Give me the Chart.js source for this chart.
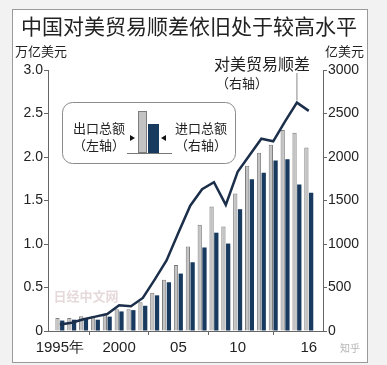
<!DOCTYPE html>
<html>
<head>
<meta charset="utf-8">
<script src="https://cdn.jsdelivr.net/npm/chart.js@4.4.1/dist/chart.umd.min.js"></script>
<style>
  html, body { margin: 0; padding: 0; background: #f2f2f2; }
  #wrap { position: relative; width: 387px; height: 365px; }
</style>
</head>
<body>
<div id="wrap"><canvas id="chart" width="387" height="365"></canvas></div>
<script>
// data
const years = [1995, 1996, 1997, 1998, 1999, 2000, 2001, 2002, 2003, 2004, 2005,
  2006, 2007, 2008, 2009, 2010, 2011, 2012, 2013, 2014, 2015, 2016];
const exportsTotal = [0.15, 0.15, 0.17, 0.17, 0.19, 0.25, 0.25, 0.33, 0.44, 0.59, 0.76,
  0.97, 1.22, 1.43, 1.20, 1.58, 1.90, 2.05, 2.14, 2.31, 2.28, 2.11];   // 万亿美元, left
const importsTotal = [120, 130, 140, 130, 165, 225, 240, 290, 410, 560, 660,
  790, 960, 1130, 1005, 1400, 1745, 1820, 1960, 1975, 1685, 1590];     // 亿美元, right
const surplus = [75, 95, 135, 165, 195, 295, 285, 380, 590, 810, 1130,
  1440, 1630, 1710, 1450, 1830, 2020, 2210, 2180, 2410, 2625, 2530];   // 亿美元, right
const tickYears = [1995, 2000, 2005, 2010, 2016];
const tickLabels = ['1995年', '2000', '05', '10', '16'];

const CJK = '"Noto Sans CJK SC", sans-serif';
const GREY = '#c3c3c3', GREY_EDGE = '#7d7d7d', NAVY = '#173a5e', LINE = '#1b2e4a';

const extras = {
  id: 'extras',
  beforeDraw(chart) {
    const c = chart.ctx;
    c.save();
    c.fillStyle = '#ffffff';
    c.fillRect(12, 9, 356, 354);
    c.restore();
  },
  afterDraw(chart) {
    const c = chart.ctx;
    c.save();
    // frame
    c.strokeStyle = '#9a9a9a';
    c.lineWidth = 1;
    c.strokeRect(12.5, 9.5, 355, 353);

    c.fillStyle = '#222';
    c.textBaseline = 'middle';
    c.textAlign = 'center';
    c.font = '21px ' + CJK;
    c.fillText('中国对美贸易顺差依旧处于较高水平', 189, 26);

    c.font = '13px ' + CJK;
    c.textAlign = 'left';
    c.fillText('万亿美元', 15, 51);
    c.textAlign = 'right';
    c.fillText('亿美元', 364, 51);

    // surplus callout
    c.textAlign = 'center';
    c.font = '16px ' + CJK;
    c.fillText('对美贸易顺差', 262, 64);
    c.font = '13px ' + CJK;
    c.fillText('（右轴）', 242, 83);
    const px = chart.scales.x.getPixelForValue(2015);
    const py = chart.scales.y1.getPixelForValue(surplus[20]);
    c.strokeStyle = '#888';
    c.beginPath();
    c.moveTo(px, 73);
    c.lineTo(px, py - 2);
    c.stroke();

    // inset legend box
    c.strokeStyle = '#8a8a8a';
    c.beginPath();
    c.roundRect(62.5, 102.5, 173, 61, 10);
    c.stroke();
    c.fillStyle = '#222';
    c.font = '13px ' + CJK;
    c.fillText('出口总额', 99, 128);
    c.fillText('（左轴）', 99, 145);
    c.fillText('进口总额', 201, 128);
    c.fillText('（右轴）', 201, 145);
    c.fillStyle = GREY;
    c.strokeStyle = GREY_EDGE;
    c.fillRect(138, 111, 9, 42);
    c.strokeRect(138.5, 111.5, 8, 41);
    c.fillStyle = NAVY;
    c.fillRect(148, 124, 11, 29);
    c.strokeStyle = '#777';
    c.beginPath();
    c.moveTo(127, 153.5);
    c.lineTo(172, 153.5);
    c.stroke();
    c.fillStyle = '#111';
    c.beginPath();
    c.moveTo(130, 135); c.lineTo(135, 138); c.lineTo(130, 141); c.fill();
    c.beginPath();
    c.moveTo(166, 135); c.lineTo(161, 138); c.lineTo(166, 141); c.fill();

    // watermarks
    c.font = 'bold 13px ' + CJK;
    c.fillStyle = 'rgba(200,170,170,0.45)';
    c.fillText('日经中文网', 86, 296);
    c.font = '10px ' + CJK;
    c.fillStyle = 'rgba(150,150,150,0.7)';
    c.fillText('知乎', 350, 348);
    c.restore();
  }
};

new Chart(document.getElementById('chart'), {
  type: 'bar',
  data: {
    datasets: [
      {
        type: 'line',
        label: '对美贸易顺差',
        data: years.map((y, i) => ({ x: y, y: surplus[i] })),
        yAxisID: 'y1',
        borderColor: LINE,
        borderWidth: 2.5,
        pointRadius: 0,
        tension: 0,
        order: 0
      },
      {
        label: '出口总额',
        data: years.map((y, i) => ({ x: y, y: exportsTotal[i] })),
        yAxisID: 'y',
        backgroundColor: GREY,
        borderColor: GREY_EDGE,
        borderWidth: 1,
        order: 1
      },
      {
        label: '进口总额',
        data: years.map((y, i) => ({ x: y, y: importsTotal[i] })),
        yAxisID: 'y1',
        backgroundColor: NAVY,
        order: 1
      }
    ]
  },
  options: {
    responsive: false,
    animation: false,
    categoryPercentage: 0.8,
    barPercentage: 0.9,
    layout: { padding: { top: 70, left: 0, right: 0, bottom: 0 } },
    plugins: { legend: { display: false }, tooltip: { enabled: false } },
    scales: {
      x: {
        type: 'linear',
        offset: false,
        min: 1994,
        max: 2017.2,
        afterBuildTicks: s => { s.ticks = tickYears.map(v => ({ value: v })); },
        afterFit: s => { s.height = 34; },
        ticks: {
          autoSkip: false,
          maxRotation: 0,
          padding: 4,
          color: '#222',
          font: { size: 15, family: 'Liberation Sans' },
          callback: v => tickLabels[tickYears.indexOf(v)]
        },
        grid: { drawOnChartArea: false, tickLength: 4, color: '#666' },
        border: { color: '#666' }
      },
      y: {
        position: 'left',
        min: 0,
        max: 3,
        afterFit: s => { s.width = 48; },
        ticks: {
          stepSize: 0.5,
          padding: 1,
          color: '#222',
          font: { size: 14, family: 'Liberation Sans' },
          callback: v => v === 0 ? '0' : v.toFixed(1)
        },
        grid: { drawOnChartArea: false, tickLength: 4, color: '#666' },
        border: { color: '#666' }
      },
      y1: {
        position: 'right',
        min: 0,
        max: 3000,
        afterFit: s => { s.width = 64; },
        ticks: {
          stepSize: 500,
          padding: 1,
          color: '#222',
          font: { size: 14, family: 'Liberation Sans' },
          callback: v => String(v)
        },
        grid: { drawOnChartArea: false, tickLength: 4, color: '#666' },
        border: { color: '#666' }
      }
    }
  },
  plugins: [extras]
});
</script>
</body>
</html>
